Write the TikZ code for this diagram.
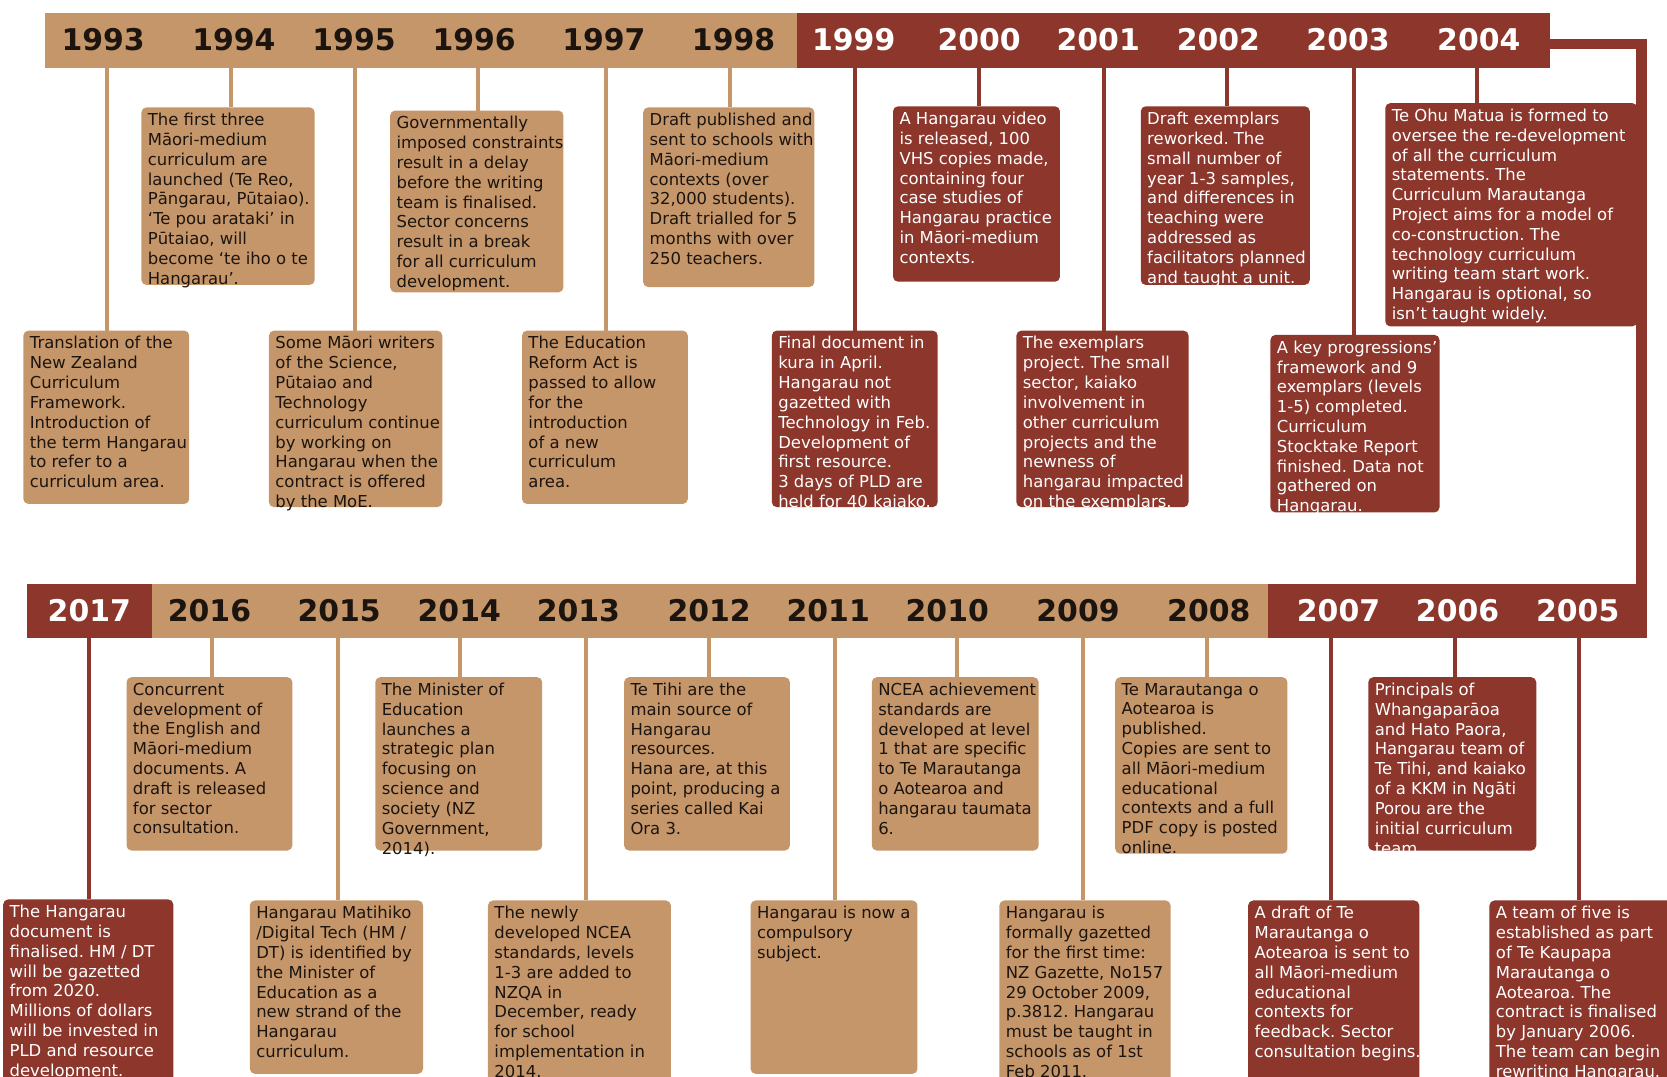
\documentclass[tikz,border=0pt]{standalone}
\usepackage{fontspec}
\newfontfamily\evfont{DejaVu Sans}
\usetikzlibrary{fit}
\definecolor{sand}{RGB}{197,150,105}
\definecolor{rust}{RGB}{140,54,44}
\definecolor{sandink}{RGB}{28,20,14}
\definecolor{rustink}{RGB}{255,255,255}
\frenchspacing

\begin{document}
\begin{tikzpicture}[x=0.03cm, y=-0.03cm,
		band/.style={inner sep=0pt, outer sep=0pt},
		year/.style={minimum height=1.55cm, inner sep=0pt, font=\evfont\bfseries\fontsize{24}{24}\selectfont},
		evbox/.style={inner sep=0pt, outer sep=0pt, rounded corners=4pt},
		evtext/.style={anchor=north west, align=left, inner xsep=5pt, inner ysep=4.5pt, font=\evfont\fontsize{13.2}{15.9}\selectfont},
		stem/.style={line width=3.2pt},
		link/.style={draw=rust, line width=8.5pt, line join=miter}]
		\useasboundingbox (0,0) rectangle (1568,1013);
		
		% one event: name, colour, stem x, box corners, text
		\def\event#1#2#3#4#5{%
			\node[evbox, fill=#2, fit={#4}] (b#1) {};
			\draw[stem, #2] (y#1.south -| #3,0) -- (b#1.north -| #3,0);
			\node[evtext, text=#2ink] (t#1) at (b#1.north west) {#5};
		}
		
		% the two bands
		\node[band, fill=sand, fit={(42,12) (750,64)}] (bandA) {};
		\node[band, fill=rust, fit={(750,12) (1458,64)}] (bandB) {};
		\node[band, fill=rust, fit={(25,549) (143,600)}] (bandC) {};
		\node[band, fill=sand, fit={(143,549) (1193,600)}] (bandD) {};
		\node[band, fill=rust, fit={(1193,549) (1549,600)}] (bandE) {};
		
		% link from the top band down to the bottom band
		\coordinate (turn) at (1544,41.5);
		\draw[link] (bandB.east |- turn) -- (turn) -- (turn |- bandE.north);
		
		% years, top row
		\node[year, text=sandink] (y1993) at (97,37.5) {1993};
		\node[year, text=sandink] (y1994) at (220,37.5) {1994};
		\node[year, text=sandink] (y1995) at (333,37.5) {1995};
		\node[year, text=sandink] (y1996) at (446,37.5) {1996};
		\node[year, text=sandink] (y1997) at (568,37.5) {1997};
		\node[year, text=sandink] (y1998) at (690,37.5) {1998};
		\node[year, text=rustink] (y1999) at (803,37.5) {1999};
		\node[year, text=rustink] (y2000) at (921,37.5) {2000};
		\node[year, text=rustink] (y2001) at (1033,37.5) {2001};
		\node[year, text=rustink] (y2002) at (1146,37.5) {2002};
		\node[year, text=rustink] (y2003) at (1268,37.5) {2003};
		\node[year, text=rustink] (y2004) at (1391,37.5) {2004};
		
		% years, bottom row
		\node[year, text=rustink] (y2017) at (84,574) {2017};
		\node[year, text=sandink] (y2016) at (197,574) {2016};
		\node[year, text=sandink] (y2015) at (319,574) {2015};
		\node[year, text=sandink] (y2014) at (432,574) {2014};
		\node[year, text=sandink] (y2013) at (544,574) {2013};
		\node[year, text=sandink] (y2012) at (667,574) {2012};
		\node[year, text=sandink] (y2011) at (779,574) {2011};
		\node[year, text=sandink] (y2010) at (891,574) {2010};
		\node[year, text=sandink] (y2009) at (1014,574) {2009};
		\node[year, text=sandink] (y2008) at (1137,574) {2008};
		\node[year, text=rustink] (y2007) at (1259,574) {2007};
		\node[year, text=rustink] (y2006) at (1371,574) {2006};
		\node[year, text=rustink] (y2005) at (1484,574) {2005};
		
		% events, top row
		\event{1993}{sand}{101}{(22,311) (178,474)}{Translation of the\\New Zealand\\Curriculum\\Framework.\\Introduction of\\the term Hangarau\\to refer to a\\curriculum area.}
		\event{1994}{sand}{217}{(133,101) (296,268)}{The first three\\Māori-medium\\curriculum are\\launched (Te Reo,\\Pāngarau, Pūtaiao).\\‘Te pou arataki’ in\\Pūtaiao, will\\become ‘te iho o te\\Hangarau’.}
		\event{1995}{sand}{334}{(253,311) (416,477)}{Some Māori writers\\of the Science,\\Pūtaiao and\\Technology\\curriculum continue\\by working on\\Hangarau when the\\contract is offered\\by the MoE.}
		\event{1996}{sand}{450}{(367,104) (530,275)}{Governmentally\\imposed constraints\\result in a delay\\before the writing\\team is finalised.\\Sector concerns\\result in a break\\for all curriculum\\development.}
		\event{1997}{sand}{570}{(491,311) (647,474)}{The Education\\Reform Act is\\passed to allow\\for the\\introduction\\of a new\\curriculum\\area.}
		\event{1998}{sand}{687}{(605,101) (766,270)}{Draft published and\\sent to schools with\\Māori-medium\\contexts (over\\32,000 students).\\Draft trialled for 5\\months with over\\250 teachers.}
		\event{1999}{rust}{804}{(726,311) (882,477)}{Final document in\\kura in April.\\Hangarau not\\gazetted with\\Technology in Feb.\\Development of\\first resource.\\3 days of PLD are\\held for 40 kaiako.}
		\event{2000}{rust}{921}{(840,100) (997,265)}{A Hangarau video\\is released, 100\\VHS copies made,\\containing four\\case studies of\\Hangarau practice\\in Māori-medium\\contexts.}
		\event{2001}{rust}{1038}{(956,311) (1118,477)}{The exemplars\\project. The small\\sector, kaiako\\involvement in\\other curriculum\\projects and the\\newness of\\hangarau impacted\\on the exemplars.}
		\event{2002}{rust}{1154}{(1073,100) (1232,268)}{Draft exemplars\\reworked. The\\small number of\\year 1-3 samples,\\and differences in\\teaching were\\addressed as\\facilitators planned\\and taught a unit.}
		\event{2003}{rust}{1274}{(1195,315) (1354,482)}{A key progressions’\\framework and 9\\exemplars (levels\\1-5) completed.\\Curriculum\\Stocktake Report\\finished. Data not\\gathered on\\Hangarau.}
		\event{2004}{rust}{1389}{(1303,97) (1540,307)}{Te Ohu Matua is formed to\\oversee the re-development\\of all the curriculum\\statements. The\\Curriculum Marautanga\\Project aims for a model of\\co-construction. The\\technology curriculum\\writing team start work.\\Hangarau is optional, so\\isn’t taught widely.}
		
		% events, bottom row
		\event{2017}{rust}{84}{(3,846) (163,1020)}{The Hangarau\\document is\\finalised. HM / DT\\will be gazetted\\from 2020.\\Millions of dollars\\will be invested in\\PLD and resource\\development.}
		\event{2016}{sand}{199}{(119,637) (275,800)}{Concurrent\\development of\\the English and\\Māori-medium\\documents. A\\draft is released\\for sector\\consultation.}
		\event{2015}{sand}{318}{(235,847) (398,1010)}{Hangarau Matihiko\\/Digital Tech (HM /\\DT) is identified by\\the Minister of\\Education as a\\new strand of the\\Hangarau\\curriculum.}
		\event{2014}{sand}{433}{(353,637) (510,800)}{The Minister of\\Education\\launches a\\strategic plan\\focusing on\\science and\\society (NZ\\Government,\\2014).}
		\event{2013}{sand}{551}{(459,847) (631,1020)}{The newly\\developed NCEA\\standards, levels\\1-3 are added to\\NZQA in\\December, ready\\for school\\implementation in\\2014.}
		\event{2012}{sand}{667}{(587,637) (743,800)}{Te Tihi are the\\main source of\\Hangarau\\resources.\\Hana are, at this\\point, producing a\\series called Kai\\Ora 3.}
		\event{2011}{sand}{785}{(706,847) (863,1010)}{Hangarau is now a\\compulsory\\subject.}
		\event{2010}{sand}{900}{(820,637) (977,800)}{NCEA achievement\\standards are\\developed at level\\1 that are specific\\to Te Marautanga\\o Aotearoa and\\hangarau taumata\\6.}
		\event{2009}{sand}{1019}{(940,847) (1101,1020)}{Hangarau is\\formally gazetted\\for the first time:\\NZ Gazette, No157\\29 October 2009,\\p.3812. Hangarau\\must be taught in\\schools as of 1st\\Feb 2011.}
		\event{2008}{sand}{1135}{(1049,637) (1211,803)}{Te Marautanga o\\Aotearoa is\\published.\\Copies are sent to\\all Māori-medium\\educational\\contexts and a full\\PDF copy is posted\\online.}
		\event{2007}{rust}{1252}{(1174,847) (1335,1020)}{A draft of Te\\Marautanga o\\Aotearoa is sent to\\all Māori-medium\\educational\\contexts for\\feedback. Sector\\consultation begins.}
		\event{2006}{rust}{1369}{(1287,637) (1445,800)}{Principals of\\Whangaparāoa\\and Hato Paora,\\Hangarau team of\\Te Tihi, and kaiako\\of a KKM in Ngāti\\Porou are the\\initial curriculum\\team.}
		\event{2005}{rust}{1485}{(1401,847) (1580,1020)}{A team of five is\\established as part\\of Te Kaupapa\\Marautanga o\\Aotearoa. The\\contract is finalised\\by January 2006.\\The team can begin\\rewriting Hangarau.}
	\end{tikzpicture}
\end{document}
